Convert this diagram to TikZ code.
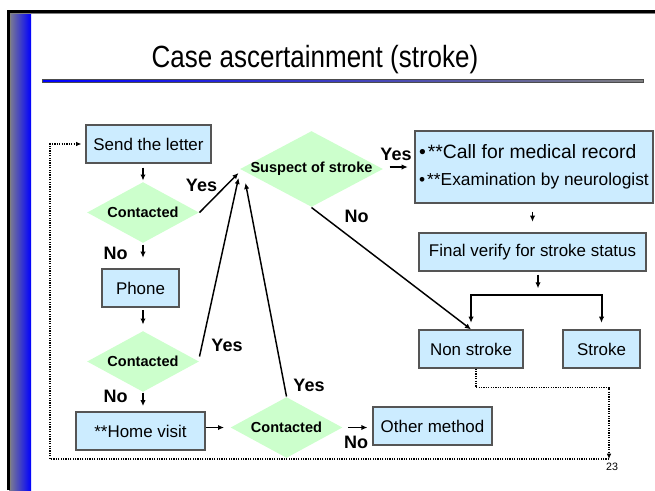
\documentclass[tikz,border=0pt]{standalone}
\usepackage{fontspec}
\setmainfont{Liberation Sans}
\usetikzlibrary{shapes.geometric,arrows.meta}

\definecolor{boxblue}{RGB}{204,236,255}
\definecolor{diagreen}{RGB}{204,255,204}
\definecolor{boxline}{RGB}{85,85,85}
\definecolor{bargray}{RGB}{128,128,140}

\tikzset{every picture/.style={line width=0.75pt}}
\tikzset{
  stepbox/.style={draw=boxline, fill=boxblue, line width=0.9pt, inner sep=0pt, font=\fontsize{12.7}{15}\selectfont},
  decision/.style={diamond, fill=diagreen, inner sep=0pt, font=\bfseries\fontsize{10.9}{13}\selectfont},
  answer/.style={inner sep=0pt, font=\bfseries\fontsize{13.5}{16}\selectfont},
  flow/.style={line width=1.1pt, -{Latex[length=4.5pt,width=4pt]}},
  branch/.style={line width=1.5pt, {Latex[length=4.5pt,width=4pt]}-{Latex[length=4.5pt,width=4pt]}},
  loopline/.style={line width=1pt, dash pattern=on 0.9pt off 0.9pt, -{Latex[length=4pt,width=3.5pt]}},
}

\begin{document}
\begin{tikzpicture}[x=0.75pt,y=0.75pt,yscale=-1,xscale=1]
\useasboundingbox (0,0) rectangle (655,490);

% slide frame
\shade[left color=bargray, right color=blue] (9,12) rectangle (31,490);
\draw[line width=3pt, color=gray] (8.5,490) -- (8.5,11.5) -- (655,11.5);
\draw[line width=2pt] (8.5,490) -- (8.5,11.5) -- (655,11.5);
\shade[left color=blue, right color=gray, draw=black!70, line width=0.5pt] (42,79) rectangle (643,82.5);

% Title
\node[anchor=base, inner sep=0pt] (title) at (315,67) {\scalebox{1}[1.18]{\fontsize{19.5}{23}\selectfont Case ascertainment (stroke)}};

% Boxes
\node[stepbox, minimum width=93.75pt, minimum height=28.5pt] (letter) at (148.5,144) {Send the letter};
\node[stepbox, minimum width=57.75pt, minimum height=28.5pt] (phone) at (140.5,288) {Phone};
\node[stepbox, minimum width=96.75pt, minimum height=28.5pt] (home) at (140.5,431) {**Home visit};
\node[stepbox, minimum width=89.25pt, minimum height=28.5pt] (other) at (432.5,426) {Other method};
\node[stepbox, minimum width=78pt, minimum height=28.5pt] (nonstroke) at (471,349) {Non stroke};
\node[stepbox, minimum width=57.75pt, minimum height=28.5pt] (stroke) at (601.5,349) {Stroke};
\node[stepbox, minimum width=178.5pt, minimum height=54pt, align=left] (call) at (534,167)
  {\fontsize{14.5}{17}\selectfont •\kern1.5pt**Call for medical record\\[5pt]\fontsize{13}{15}\selectfont •\kern1.5pt**Examination by neurologist};
\node[stepbox, minimum width=170.25pt, minimum height=28.5pt] (final) at (532.5,252) {Final verify for stroke status};

% Decisions
\node[decision, minimum width=84pt, minimum height=45.75pt] (c1) at (143,212.5) {\makebox[0pt]{Contacted}};
\node[decision, minimum width=84pt, minimum height=45.75pt] (c2) at (143,361.5) {\makebox[0pt]{Contacted}};
\node[decision, minimum width=84pt, minimum height=45.75pt] (c3) at (286.5,427.5) {\makebox[0pt]{Contacted}};
\node[decision, minimum width=107.25pt, minimum height=57pt] (suspect) at (311.5,169) {\makebox[0pt]{Suspect of stroke}};

% Answers
\node[answer] (yes1) at (201.5,185) {Yes};
\node[answer] (no1) at (115.5,253) {No};
\node[answer] (yes2) at (227,345) {Yes};
\node[answer] (no2) at (115.5,396) {No};
\node[answer] (yes3) at (309,385) {Yes};
\node[answer] (no3) at (356,442) {No};
\node[answer] (yes4) at (396,154.5) {Yes};
\node[answer] (no4) at (356.5,216) {No};

% page number
\node[inner sep=0pt, font=\fontsize{8}{9}\selectfont] (page) at (612,467) {23};

\coordinate (bar) at (538,295);
\coordinate (loopend) at (609,459);
\coordinate (loopturn) at (50,459);

% Arrows
\draw[flow, shorten <=3pt, shorten >=0.75pt] (letter.south -| c1.north) -- (c1.north);
\draw[flow, shorten <=0.75pt, shorten >=8pt] (c1.south) -- (phone.north -| c1.south);
\draw[flow, shorten <=2pt, shorten >=4.5pt] (phone.south -| c2.north) -- (c2.north);
\draw[flow, shorten >=4pt] (c2.south) -- (home.north -| c2.south);
\draw[flow, shorten >=4.5pt] (home.east |- c3.west) -- (c3.west);
\draw[flow, shorten <=3.75pt, shorten >=3.75pt] (c3.east) -- (c3.east -| other.west);
\draw[flow] (c1.east) -- ([shift={(-1,4)}]suspect.west);
\draw[flow] ([shift={(0,-5)}]c2.east) -- ([shift={(-1,9)}]suspect.west);
\draw[flow] (c3.north) -- ([shift={(6,14)}]suspect.west);
\draw[flow] (suspect.south) -- (nonstroke.north);
\draw[flow, shorten <=4.5pt, shorten >=5pt] ([yshift=-1.5pt]suspect.east) -- ([yshift=-1.5pt]suspect.east -| call.west);
\draw[flow, shorten <=6pt, shorten >=8pt] (call.south -| final.north) -- (final.north);
\draw[flow, shorten <=2.25pt, shorten >=5pt] (final.south -| bar) -- (bar);
\draw[branch, shorten <=5pt, shorten >=5pt] (nonstroke.north) -- (nonstroke.north |- bar) -- (stroke.north |- bar) -- (stroke.north);

% Loop back
\draw[loopline] ([xshift=3.75pt]nonstroke.south) -- ++(0,19) -| (loopend);
\draw[loopline, shorten >=3pt] (loopend) -- (loopturn) |- (letter.west);

\end{tikzpicture}
\end{document}
